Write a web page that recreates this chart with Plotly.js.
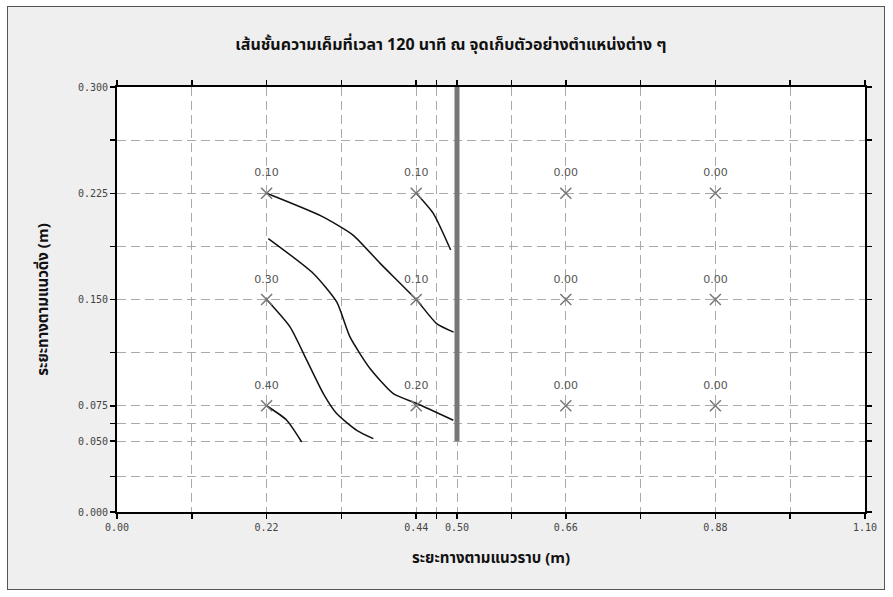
<!DOCTYPE html>
<html>
<head>
<meta charset="utf-8">
<script src="https://cdn.plot.ly/plotly-3.0.1.min.js"></script>
<style>
  html, body { margin: 0; padding: 0; background: #ffffff; }
  #wrap { position: relative; width: 893px; height: 597px; }
  #frame { position: absolute; left: 7px; top: 6px; width: 878px; height: 584px;
           border: 1px solid #555; background: #efefef; box-sizing: border-box; }
  #chart { position: absolute; left: 0; top: 0; width: 893px; height: 597px; }
</style>
</head>
<body>
<div id="wrap">
  <div id="frame"></div>
  <div id="chart"></div>
</div>
<script>
// ---- data ----
const titleText = "เส้นชั้นความเค็มที่เวลา 120 นาที ณ จุดเก็บตัวอย่างตำแหน่งต่าง ๆ";
const xTitle = "ระยะทางตามแนวราบ (m)";
const yTitle = "ระยะทางตามแนวดิ่ง (m)";

// sampling points and measured salinity labels
const sampleX = [0.22, 0.22, 0.22, 0.44, 0.44, 0.44, 0.66, 0.66, 0.66, 0.88, 0.88, 0.88];
const sampleY = [0.225, 0.150, 0.075, 0.225, 0.150, 0.075, 0.225, 0.150, 0.075, 0.225, 0.150, 0.075];
const sampleLabels = ["0.10", "0.30", "0.40", "0.10", "0.10", "0.20", "0.00", "0.00", "0.00", "0.00", "0.00", "0.00"];

// contour lines
const c1x = [0.22, 0.30, 0.347, 0.387, 0.44, 0.47, 0.495];
const c1y = [0.225, 0.209, 0.1955, 0.1755, 0.150, 0.133, 0.127];
const c2x = [0.2225, 0.2887, 0.3231, 0.3426, 0.3721, 0.4063, 0.4407, 0.4946];
const c2y = [0.193, 0.1684, 0.1483, 0.1236, 0.1013, 0.0836, 0.0766, 0.0648];
const c3x = [0.22, 0.2544, 0.279, 0.3034, 0.323, 0.3525, 0.377];
const c3y = [0.150, 0.1307, 0.1072, 0.0836, 0.0695, 0.0577, 0.0518];
const c4x = [0.22, 0.2496, 0.2716];
const c4y = [0.075, 0.0648, 0.0494];
const c5x = [0.44, 0.4651, 0.4907];
const c5y = [0.225, 0.2108, 0.1849];

// sheet pile / wall at x = 0.50
const wallX = [0.50, 0.50];
const wallY = [0.050, 0.300];

// axis ticks (grid positions) and labels
const xTickVals = [0, 0.11, 0.22, 0.33, 0.44, 0.47, 0.50, 0.58, 0.66, 0.77, 0.88, 0.99, 1.10];
const xTickText = ["0.00", "", "0.22", "", "0.44", "", "0.50", "", "0.66", "", "0.88", "", "1.10"];
const yTickVals = [0, 0.025, 0.050, 0.0625, 0.075, 0.1125, 0.150, 0.1875, 0.225, 0.2625, 0.300];
const yTickText = ["0.000", "", "0.050", "", "0.075", "", "0.150", "", "0.225", "", "0.300"];

// ---- traces ----
const lineStyle = {color: "#111", width: 1.5, shape: "spline", smoothing: 0.6};
const traces = [
  {x: c1x, y: c1y, mode: "lines", line: lineStyle, hoverinfo: "skip"},
  {x: c2x, y: c2y, mode: "lines", line: lineStyle, hoverinfo: "skip"},
  {x: c3x, y: c3y, mode: "lines", line: lineStyle, hoverinfo: "skip"},
  {x: c4x, y: c4y, mode: "lines", line: lineStyle, hoverinfo: "skip"},
  {x: c5x, y: c5y, mode: "lines", line: lineStyle, hoverinfo: "skip"},
  {x: wallX, y: wallY, mode: "lines", line: {color: "#777", width: 5}, hoverinfo: "skip"},
  {x: sampleX, y: sampleY, mode: "markers",
   marker: {symbol: "x-thin-open", size: 11, color: "#777", line: {color: "#777", width: 1.5}},
   hoverinfo: "skip"},
  {x: sampleX, y: sampleY, mode: "markers+text", text: sampleLabels,
   textposition: "top center",
   textfont: {family: "DejaVu Sans, sans-serif", size: 11, color: "#555"},
   marker: {size: 21, color: "rgba(0,0,0,0)"},
   hoverinfo: "skip"}
];

const axisCommon = {
  showline: true, linecolor: "#000", linewidth: 2, mirror: "allticks",
  ticks: "outside", ticklen: 5, tickcolor: "#000", tickwidth: 1.5,
  showgrid: true, gridcolor: "#aaa", gridwidth: 1, griddash: "9px,5px",
  zeroline: false, tickmode: "array",
  tickfont: {family: "DejaVu Sans Mono, DejaVu Sans, sans-serif", size: 10, color: "#444"}
};

const layout = {
  width: 893, height: 597,
  margin: {l: 117, r: 28, t: 87, b: 85},
  paper_bgcolor: "rgba(0,0,0,0)",
  plot_bgcolor: "#ffffff",
  showlegend: false,
  title: {text: "<b>" + titleText + "</b>", x: 0.505, xanchor: "center", y: 0.925, yanchor: "middle",
          font: {family: "Noto Sans Thai, Noto Sans, sans-serif", size: 16, color: "#111"}},
  xaxis: Object.assign({}, axisCommon, {
    range: [0, 1.10], tickvals: xTickVals, ticktext: xTickText,
    title: {text: "<b>" + xTitle + "</b>", standoff: 20,
            font: {family: "Noto Sans Thai, Noto Sans, sans-serif", size: 15, color: "#111"}}
  }),
  yaxis: Object.assign({}, axisCommon, {
    range: [0, 0.300], tickvals: yTickVals, ticktext: yTickText,
    title: {text: "<b>" + yTitle + "</b>", standoff: 26,
            font: {family: "Noto Sans Thai, Noto Sans, sans-serif", size: 15, color: "#111"}}
  })
};

Plotly.newPlot("chart", traces, layout, {displayModeBar: false, staticPlot: true});
</script>
</body>
</html>
